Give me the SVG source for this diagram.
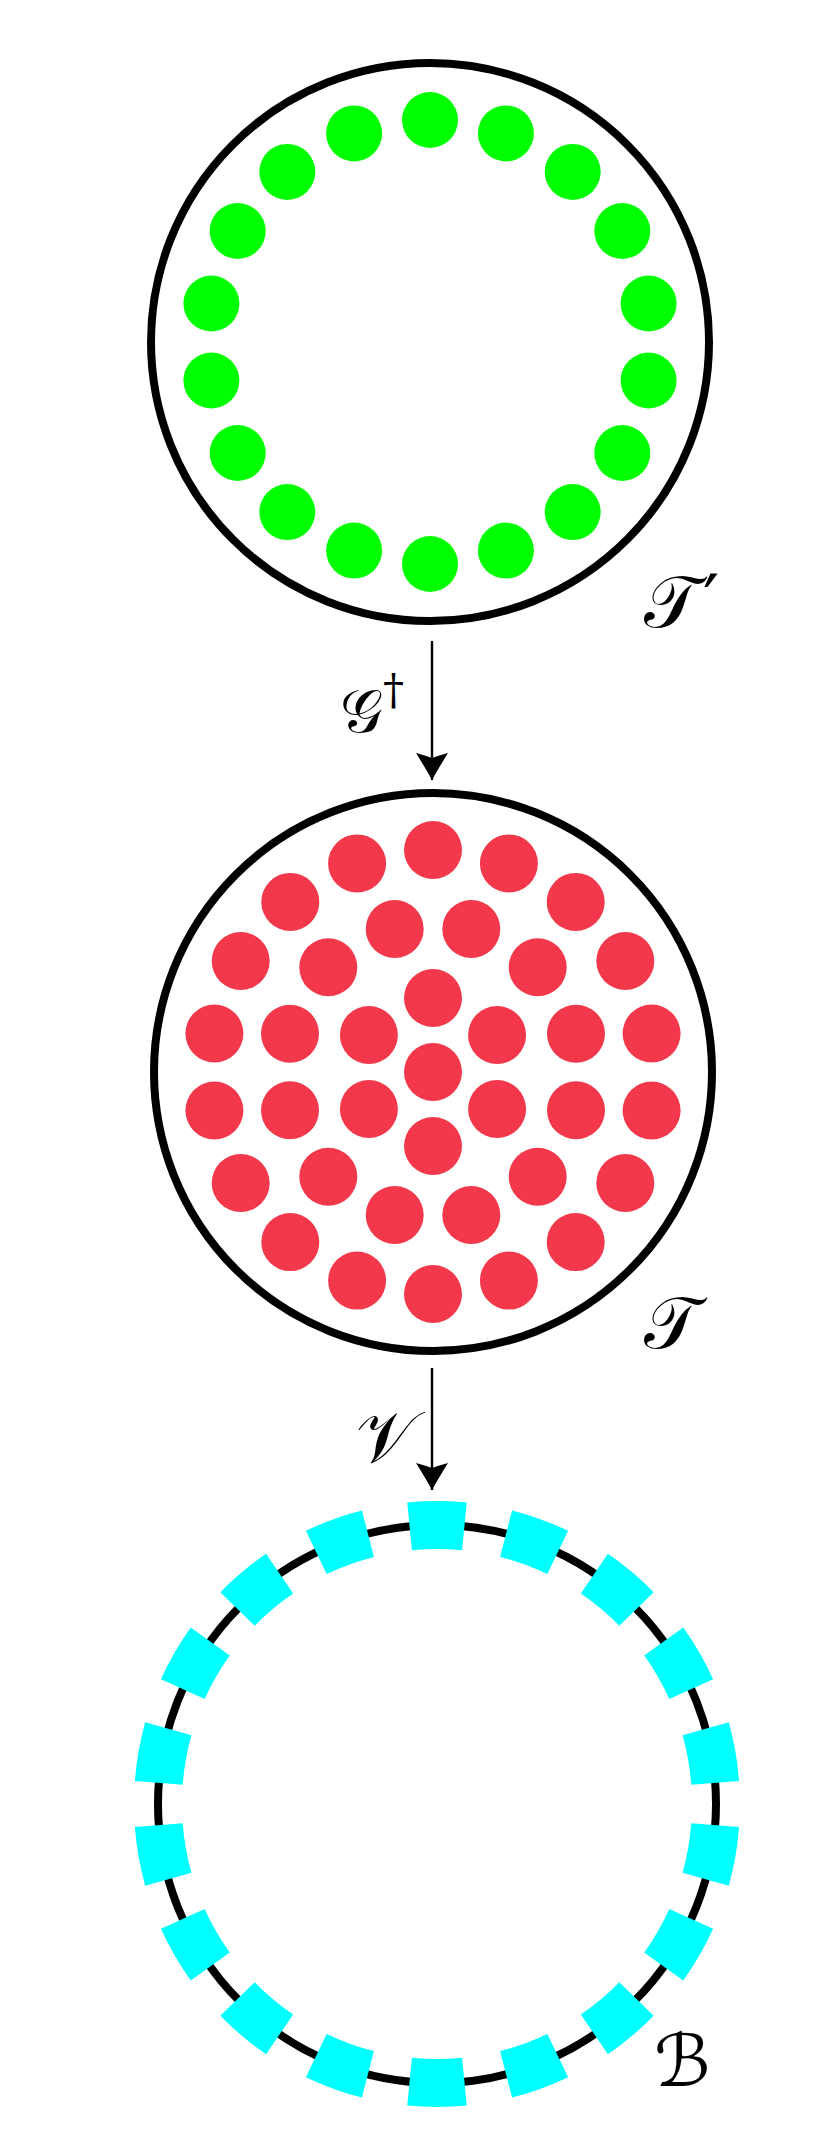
<svg xmlns="http://www.w3.org/2000/svg" width="830" height="2134" viewBox="0 0 830 2134">
<style>
.ring{fill:none;stroke:#000;stroke-width:8}
.g{fill:#00ff00}
.r{fill:#f2384a}
.lbl{font-family:'DejaVu Serif','DejaVu Sans','Liberation Serif',serif;fill:#000}
.conn{stroke:#000;stroke-width:2.4;fill:none}
</style>
<defs>
<marker id="ah" viewBox="-30 -18 32 36" refX="0" refY="0" markerWidth="32" markerHeight="36" markerUnits="userSpaceOnUse" orient="auto">
<path d="M0,0 Q-11,-6 -27,-16 Q-24,-5 -22,0 Q-24,5 -27,16 Q-11,6 0,0 Z" fill="#000"/>
</marker>
</defs>
<rect width="830" height="2134" fill="#fff"/>
<g id="node-Tprime">
<circle class="ring" cx="430" cy="342" r="279"/>
<circle class="g" cx="430" cy="120" r="28"/>
<circle class="g" cx="505.9" cy="133.4" r="28"/>
<circle class="g" cx="572.7" cy="171.9" r="28"/>
<circle class="g" cx="622.3" cy="231" r="28"/>
<circle class="g" cx="648.6" cy="303.5" r="28"/>
<circle class="g" cx="648.6" cy="380.5" r="28"/>
<circle class="g" cx="622.3" cy="453" r="28"/>
<circle class="g" cx="572.7" cy="512.1" r="28"/>
<circle class="g" cx="505.9" cy="550.6" r="28"/>
<circle class="g" cx="430" cy="564" r="28"/>
<circle class="g" cx="354.1" cy="550.6" r="28"/>
<circle class="g" cx="287.3" cy="512.1" r="28"/>
<circle class="g" cx="237.7" cy="453" r="28"/>
<circle class="g" cx="211.4" cy="380.5" r="28"/>
<circle class="g" cx="211.4" cy="303.5" r="28"/>
<circle class="g" cx="237.7" cy="231" r="28"/>
<circle class="g" cx="287.3" cy="171.9" r="28"/>
<circle class="g" cx="354.1" cy="133.4" r="28"/>
<text class="lbl" x="644" y="627" font-size="72">𝒯<tspan dx="4">′</tspan></text>
</g>
<g id="node-T">
<circle class="ring" cx="433" cy="1072" r="279"/>
<circle class="r" cx="433" cy="1072" r="29"/>
<circle class="r" cx="433" cy="998" r="29"/>
<circle class="r" cx="497.1" cy="1035" r="29"/>
<circle class="r" cx="497.1" cy="1109" r="29"/>
<circle class="r" cx="433" cy="1146" r="29"/>
<circle class="r" cx="368.9" cy="1109" r="29"/>
<circle class="r" cx="368.9" cy="1035" r="29"/>
<circle class="r" cx="471.3" cy="929" r="29"/>
<circle class="r" cx="537.7" cy="967.3" r="29"/>
<circle class="r" cx="576" cy="1033.7" r="29"/>
<circle class="r" cx="576" cy="1110.3" r="29"/>
<circle class="r" cx="537.7" cy="1176.7" r="29"/>
<circle class="r" cx="471.3" cy="1215" r="29"/>
<circle class="r" cx="394.7" cy="1215" r="29"/>
<circle class="r" cx="328.3" cy="1176.7" r="29"/>
<circle class="r" cx="290" cy="1110.3" r="29"/>
<circle class="r" cx="290" cy="1033.7" r="29"/>
<circle class="r" cx="328.3" cy="967.3" r="29"/>
<circle class="r" cx="394.7" cy="929" r="29"/>
<circle class="r" cx="433" cy="850" r="29"/>
<circle class="r" cx="508.9" cy="863.4" r="29"/>
<circle class="r" cx="575.7" cy="901.9" r="29"/>
<circle class="r" cx="625.3" cy="961" r="29"/>
<circle class="r" cx="651.6" cy="1033.5" r="29"/>
<circle class="r" cx="651.6" cy="1110.5" r="29"/>
<circle class="r" cx="625.3" cy="1183" r="29"/>
<circle class="r" cx="575.7" cy="1242.1" r="29"/>
<circle class="r" cx="508.9" cy="1280.6" r="29"/>
<circle class="r" cx="433" cy="1294" r="29"/>
<circle class="r" cx="357.1" cy="1280.6" r="29"/>
<circle class="r" cx="290.3" cy="1242.1" r="29"/>
<circle class="r" cx="240.7" cy="1183" r="29"/>
<circle class="r" cx="214.4" cy="1110.5" r="29"/>
<circle class="r" cx="214.4" cy="1033.5" r="29"/>
<circle class="r" cx="240.7" cy="961" r="29"/>
<circle class="r" cx="290.3" cy="901.9" r="29"/>
<circle class="r" cx="357.1" cy="863.4" r="29"/>
<text class="lbl" x="644" y="1348" font-size="72">𝒯</text>
</g>
<g id="node-B">
<circle class="ring" cx="437" cy="1804" r="279"/>
<circle cx="437" cy="1804" r="279" fill="none" stroke="#00ffff" stroke-width="48" pathLength="360" stroke-dasharray="11.3 8.7" stroke-dashoffset="-4.35"/>
<text class="lbl" x="654" y="2086" font-size="72">ℬ</text>
</g>
<g id="connectors">
<line class="conn" x1="432" y1="641" x2="432" y2="780" marker-end="url(#ah)"/>
<line class="conn" x1="432" y1="1368" x2="432" y2="1490" marker-end="url(#ah)"/>
<text class="lbl" x="340" y="732" font-size="60">𝒢<tspan font-size="42" dy="-28">†</tspan></text>
<text class="lbl" x="356" y="1462" font-size="72">𝒱</text>
</g>
</svg>
